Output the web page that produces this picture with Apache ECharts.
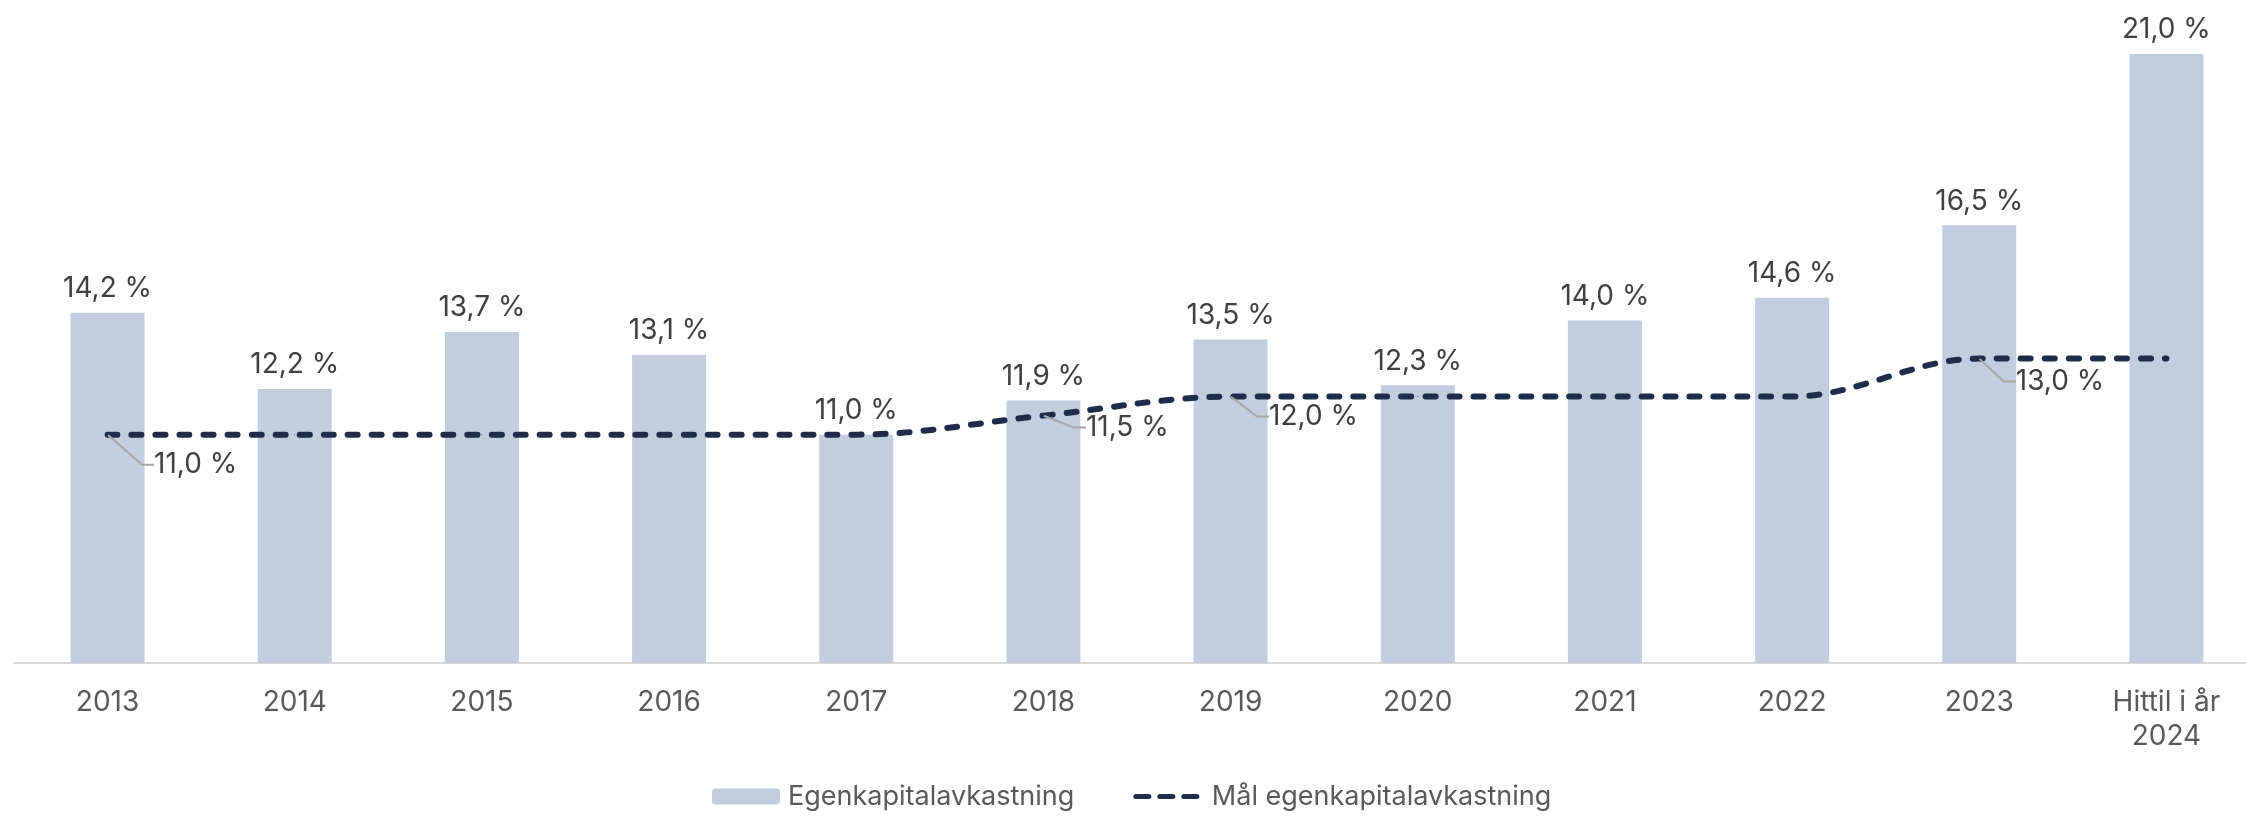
<!DOCTYPE html>
<html>
<head>
<meta charset="utf-8">
<title>Egenkapitalavkastning</title>
<script src="https://cdn.jsdelivr.net/npm/echarts@6/dist/echarts.min.js"></script>
<style>
  html, body { margin: 0; padding: 0; background: #ffffff; }
  #chart { width: 2246px; height: 816px; }
</style>
</head>
<body>
<div id="chart"></div>
<script>
// Categories along the x axis (last one wraps over two lines)
const categories = ['2013', '2014', '2015', '2016', '2017', '2018', '2019', '2020', '2021', '2022', '2023', 'Hittil i år\n2024'];

// Return on equity, per cent
const roeValues = [14.2, 12.2, 13.7, 13.1, 11.0, 11.9, 13.5, 12.3, 14.0, 14.6, 16.5, 21.0];

// Target return on equity, per cent
const targetValues = [11.0, 11.0, 11.0, 11.0, 11.0, 11.5, 12.0, 12.0, 12.0, 12.0, 13.0, 13.0];

// Target points that carry a value label
const labelledTargets = ['2013', '2018', '2019', '2023'];

const seriesNames = ['Egenkapitalavkastning', 'Mål egenkapitalavkastning'];

// Label placement next to the target line (pixel shifts from the point)
const targetLabelShift = {
  '2013': { dx: 38, dy: 30 },
  '2018': { dx: 34, dy: 12 },
  '2019': { dx: 30, dy: 20 },
  '2023': { dx: 28, dy: 23 }
};

const FONT = 'Inter, "Liberation Sans", Arial, sans-serif';
const fmtPct = v => v.toFixed(1).replace('.', ',') + ' %';

const targetData = targetValues.map((v, i) => {
  const show = labelledTargets.indexOf(categories[i]) !== -1;
  return {
    value: v,
    label: { show: show },
    labelLine: { show: show }
  };
});

const chart = echarts.init(document.getElementById('chart'), null, { renderer: 'canvas' });

chart.setOption({
  backgroundColor: '#ffffff',
  animation: false,
  textStyle: { fontFamily: FONT },
  grid: {
    left: 14, top: 16, width: 2246, bottom: 153,
    containLabel: false,
    outerBoundsMode: 'none'
  },
  legend: {
    left: 707,
    top: 778,
    itemWidth: 68,
    itemHeight: 16,
    itemGap: 59,
    textStyle: { fontFamily: FONT, fontSize: 27, color: '#595959', padding: [0, 0, 0, 3] },
    data: [
      { name: seriesNames[0] },
      { name: seriesNames[1], itemStyle: { opacity: 0 }, lineStyle: { type: [13, 11], width: 5 } }
    ]
  },
  xAxis: {
    type: 'category',
    data: categories,
    axisLine: { show: true, lineStyle: { color: '#d9d9d9', width: 2 } },
    axisTick: { show: false },
    axisLabel: {
      color: '#595959',
      fontFamily: FONT,
      fontSize: 28,
      lineHeight: 34,
      margin: 23,
      verticalAlign: 'top',
      overflow: 'none',
      hideOverlap: false,
      interval: 0
    },
    splitLine: { show: false }
  },
  yAxis: {
    type: 'value',
    min: 5,
    max: 22,
    show: false,
    splitLine: { show: false }
  },
  series: [
    {
      name: seriesNames[0],
      type: 'bar',
      data: roeValues,
      barWidth: 74,
      itemStyle: { color: '#c2cddf' },
      label: {
        show: true,
        position: 'top',
        distance: 10,
        fontFamily: FONT,
        fontSize: 28,
        color: '#404040',
        formatter: p => fmtPct(p.value)
      },
      z: 2
    },
    {
      name: seriesNames[1],
      type: 'line',
      data: targetData,
      smooth: 0.35,
      symbol: 'circle',
      symbolSize: 1,
      showAllSymbol: true,
      itemStyle: { color: '#1f2c4a' },
      lineStyle: { color: '#1f2c4a', width: 6, type: [10, 14], cap: 'round' },
      label: {
        show: false,
        position: 'right',
        distance: 0,
        fontFamily: FONT,
        fontSize: 28,
        color: '#404040',
        padding: [0, 2, 0, 8],
        formatter: p => fmtPct(p.value)
      },
      labelLine: {
        show: false,
        length2: 12,
        lineStyle: { color: '#a6a6a6', width: 2 }
      },
      labelLayout: params => {
        const s = targetLabelShift[categories[params.dataIndex]];
        return s ? { dx: s.dx, dy: s.dy } : {};
      },
      z: 5
    }
  ]
});
</script>
</body>
</html>
